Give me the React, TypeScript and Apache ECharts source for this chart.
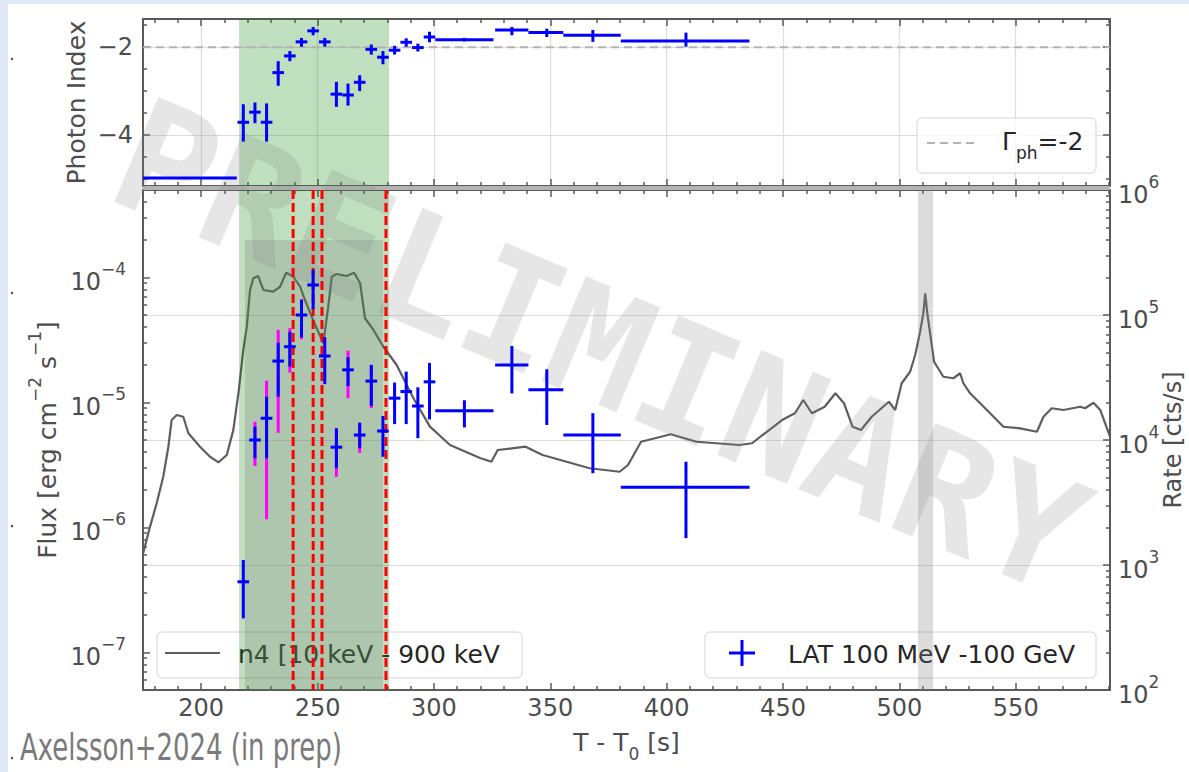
import React, { useEffect, useRef } from "react";
import * as echarts from "echarts";

// Axis ranges
const T_MIN = 175;
const T_MAX = 590.5;
const INDEX_MIN = -5.16;
const INDEX_MAX = -1.36;
const FLUX_MIN = 5e-8;
const FLUX_MAX = 5e-4;
const RATE_MIN = 1e2;
const RATE_MAX = 1e6;

// LAT photon index: [t, tLo, tHi, index, indexLo, indexHi]
const photonIndex = [
  [195.2, 175.0, 215.3, -4.98, -4.98, -4.98],
  [218.1, 215.6, 220.6, -3.71, -4.15, -3.3],
  [223.1, 220.6, 225.6, -3.48, -3.73, -3.26],
  [228.1, 225.6, 230.6, -3.71, -4.15, -3.28],
  [233.1, 230.6, 235.6, -2.58, -2.88, -2.32],
  [238.1, 235.6, 240.6, -2.2, -2.32, -2.09],
  [243.1, 240.6, 245.6, -1.88, -1.99, -1.79],
  [248.1, 245.6, 250.6, -1.63, -1.73, -1.54],
  [253.1, 250.6, 255.6, -1.88, -1.99, -1.79],
  [258.1, 255.6, 260.6, -3.07, -3.36, -2.79],
  [263.1, 260.6, 265.6, -3.09, -3.33, -2.83],
  [268.1, 265.6, 270.6, -2.8, -3.0, -2.64],
  [273.1, 270.6, 275.6, -2.05, -2.17, -1.94],
  [278.1, 275.6, 280.6, -2.23, -2.39, -2.09],
  [283.1, 280.6, 285.6, -2.07, -2.17, -1.97],
  [288.1, 285.6, 290.6, -1.89, -1.99, -1.8],
  [293.1, 290.6, 295.6, -2.01, -2.1, -1.92],
  [298.1, 295.6, 300.6, -1.77, -1.89, -1.65],
  [313.1, 300.6, 325.6, -1.83, -1.87, -1.79],
  [333.5, 326.3, 340.6, -1.61, -1.73, -1.54],
  [348.5, 340.6, 355.6, -1.67, -1.77, -1.58],
  [368.3, 355.6, 380.3, -1.73, -1.88, -1.61],
  [408.3, 380.3, 435.6, -1.86, -1.99, -1.67],
];

// LAT 100 MeV - 100 GeV flux: [t, tLo, tHi, flux, fluxLo, fluxHi]
const latFlux = [
  [218.1, 215.6, 220.6, 3.67e-7, 1.87e-7, 5.48e-7],
  [223.1, 220.6, 225.6, 5.0e-6, 3.57e-6, 6.38e-6],
  [228.1, 225.6, 230.6, 7.46e-6, 3.57e-6, 1.11e-5],
  [233.1, 230.6, 235.6, 2.14e-5, 1.11e-5, 3.0e-5],
  [238.1, 235.6, 240.6, 2.79e-5, 1.93e-5, 3.67e-5],
  [243.1, 240.6, 245.6, 5.0e-5, 3.32e-5, 6.6e-5],
  [248.1, 245.6, 250.6, 8.69e-5, 5.56e-5, 1.15e-4],
  [253.1, 250.6, 255.6, 2.35e-5, 1.4e-5, 3.32e-5],
  [258.1, 255.6, 260.6, 4.38e-6, 2.97e-6, 6.2e-6],
  [263.1, 260.6, 265.6, 1.82e-5, 1.35e-5, 2.3e-5],
  [268.1, 265.6, 270.6, 5.48e-6, 4.3e-6, 6.87e-6],
  [273.1, 270.6, 275.6, 1.48e-5, 9.35e-6, 1.99e-5],
  [278.1, 275.6, 280.6, 5.9e-6, 3.67e-6, 7.78e-6],
  [283.1, 280.6, 285.6, 1.08e-5, 6.7e-6, 1.44e-5],
  [288.1, 285.6, 290.6, 1.22e-5, 6.7e-6, 1.76e-5],
  [293.1, 290.6, 295.6, 9.35e-6, 5.17e-6, 1.32e-5],
  [298.1, 295.6, 300.6, 1.46e-5, 7.3e-6, 2.07e-5],
  [313.1, 300.6, 325.6, 8.57e-6, 6.3e-6, 1.04e-5],
  [333.5, 326.3, 340.6, 1.99e-5, 1.18e-5, 2.83e-5],
  [348.5, 340.6, 355.6, 1.26e-5, 6.6e-6, 1.84e-5],
  [368.3, 355.6, 380.3, 5.48e-6, 2.71e-6, 8.2e-6],
  [408.3, 380.3, 435.6, 2.09e-6, 8.2e-7, 3.35e-6],
];

// Flux ranges including systematics: [t, lo, hi]
const latFluxSys = [
  [223.1, 3.1e-6, 7.0e-6],
  [228.1, 1.16e-6, 1.49e-5],
  [233.1, 5.7e-6, 3.8e-5],
  [238.1, 1.73e-5, 3.92e-5],
  [243.1, 3.2e-5, 6.7e-5],
  [258.1, 2.54e-6, 6.2e-6],
  [263.1, 1.08e-5, 2.59e-5],
  [268.1, 3.95e-6, 6.87e-6],
  [273.1, 9.0e-6, 2.0e-5],
];

// GBM n4 light curve, 10 keV - 900 keV
const lcTime = [
  175.1, 178.0, 180.9, 183.7, 185.9, 187.3, 189.5, 192.3, 194.5, 199.5, 203.8, 207.4, 211.0, 213.8,
  216.0, 218.1, 219.6, 221.0, 222.4, 224.5, 226.7, 231.0, 233.9, 236.5, 239.6, 242.5, 244.6, 247.5,
  250.3, 252.5, 254.6, 256.1, 258.2, 262.5, 265.7, 268.3, 270.4, 274.0, 278.3, 284.0, 291.2, 298.3,
  306.9, 319.8, 324.7, 327.4, 339.4, 346.7, 366.9, 379.8, 383.4, 389.0, 401.8, 412.8, 431.2, 436.7,
  442.2, 449.6, 455.1, 458.7, 462.4, 467.9, 472.5, 476.2, 479.9, 483.5, 488.1, 495.5, 498.2, 501.0,
  504.6, 506.8, 508.9, 510.3, 511.1, 512.0, 513.2, 514.9, 518.9, 523.2, 526.1, 527.5, 530.4, 537.6,
  544.7, 551.9, 559.1, 561.9, 565.5, 570.5, 577.7, 579.8, 583.4, 586.3, 590.5,
];
const lcRate = [
  1250, 2020, 3130, 5080, 8840, 14450, 15850, 15350, 11320, 8840, 7350, 6630, 7590, 12000,
  23650, 52500, 80600, 158500, 196600, 205000, 158500, 153600, 168300, 218000, 202300, 168300, 131800, 96900,
  73500, 59400, 116500, 202300, 212800, 205000, 218000, 179500, 94200, 75900, 55700, 39800, 21600, 12800,
  9120, 7180, 6700, 8320, 8840, 7590, 5940, 5570, 6310, 9680, 11110, 9680, 9120, 9420,
  11320, 14450, 16370, 20900, 16370, 18450, 23650, 19680, 12760, 12020, 15350, 20230, 17380, 28440,
  35160, 47860, 73450, 103000, 149300, 103000, 71450, 42300, 32060, 31190, 34200, 28440, 23650, 17380,
  12760, 12400, 11650, 15350, 17950, 17380, 18450, 17950, 19870, 17380, 10620,
];

// Time intervals and markers
const promptSpan = [216.3, 280.7];
const analysisSpan = [218.8, 278.1];
const analysisSpanTop = 0.9; // fraction of the panel height
const highlightSpan = [508.0, 514.5];
const intervalEdges = [239.5, 248.1, 251.9, 279.4];
const referenceIndex = -2;

const FONT = "'DejaVu Sans', sans-serif";
const TEXT = "#4d4d4d";
const SPINE = "#5a5a5a";
const GRID_LINE = "#dcdcdc";
const BLUE = "#0000ff";

function logMinor(min: number, max: number) {
  const out: number[] = [];
  for (let e = Math.floor(Math.log10(min)); e <= Math.ceil(Math.log10(max)); e++) {
    for (let m = 2; m <= 9; m++) {
      const v = m * Math.pow(10, e);
      if (v > min && v < max) out.push(v);
    }
  }
  return out;
}

function powerLabel(v: number) {
  const e = Math.round(Math.log10(v));
  return `{b|10}{s|${e < 0 ? "\u2212" : ""}${Math.abs(e)}}`;
}

const powerRich = {
  b: { fontSize: 24, lineHeight: 34, verticalAlign: "bottom", color: TEXT, fontFamily: FONT },
  s: { fontSize: 17, lineHeight: 17, verticalAlign: "top", color: TEXT, fontFamily: FONT },
};

const lineStyle = { color: SPINE, width: 2 };
const tickStyle = { color: SPINE, width: 1.5 };

function timeAxis(gridIndex: number, position: string, extra: any = {}) {
  return {
    type: "value",
    gridIndex,
    position,
    min: T_MIN,
    max: T_MAX,
    splitNumber: 8,
    minInterval: 50,
    maxInterval: 50,
    axisLine: { show: true, onZero: false, lineStyle },
    axisTick: { show: true, inside: true, length: 7, lineStyle: tickStyle },
    minorTick: { show: true, splitNumber: 5, length: 4, lineStyle: tickStyle },
    axisLabel: { show: false },
    splitLine: { show: false },
    ...extra,
  };
}

function crossRender(color: string, width: number) {
  return (params: any, api: any) => {
    const t = api.value(0);
    const lo = api.value(1);
    const hi = api.value(2);
    const y = api.value(3);
    const ylo = api.value(4);
    const yhi = api.value(5);
    const c = api.coord([t, y]);
    const l = api.coord([lo, y]);
    const r = api.coord([hi, y]);
    const style = { stroke: color, lineWidth: width, fill: null };
    const children: any[] = [
      { type: "line", shape: { x1: l[0], y1: c[1], x2: r[0], y2: c[1] }, style },
    ];
    if (ylo !== yhi) {
      const b = api.coord([t, ylo]);
      const u = api.coord([t, yhi]);
      children.push({ type: "line", shape: { x1: c[0], y1: u[1], x2: c[0], y2: b[1] }, style });
    }
    return { type: "group", children };
  };
}

function barRender(color: string, width: number) {
  return (params: any, api: any) => {
    const t = api.value(0);
    const b = api.coord([t, api.value(1)]);
    const u = api.coord([t, api.value(2)]);
    return {
      type: "line",
      shape: { x1: b[0], y1: u[1], x2: b[0], y2: b[1] },
      style: { stroke: color, lineWidth: width },
    };
  };
}

// vertical band over [value(0), value(1)], covering the lower `frac` of the panel
function spanRender(color: string, yRef: number, frac = 1) {
  return (params: any, api: any) => {
    const cs = params.coordSys;
    const x1 = api.coord([api.value(0), yRef])[0];
    const x2 = api.coord([api.value(1), yRef])[0];
    const h = cs.height * frac;
    return {
      type: "rect",
      shape: { x: x1, y: cs.y + cs.height - h, width: x2 - x1, height: h },
      style: { fill: color },
    };
  };
}

function vlineRender(color: string, yRef: number) {
  return (params: any, api: any) => {
    const cs = params.coordSys;
    const x = api.coord([api.value(0), yRef])[0];
    return {
      type: "line",
      shape: { x1: x, y1: cs.y, x2: x, y2: cs.y + cs.height },
      style: { stroke: color, lineWidth: 3, lineDash: [9, 4] },
    };
  };
}

export default function App() {
  const ref = useRef<HTMLDivElement>(null);

  useEffect(() => {
    if (!ref.current) return;
    const chart = echarts.init(ref.current, null, { renderer: "svg" });

    const option: any = {
      animation: false,
      backgroundColor: "#ffffff",
      textStyle: { fontFamily: FONT },
      grid: [
        { left: 143, top: 19, width: 967, height: 167, outerBoundsMode: "none", containLabel: false },
        { left: 143, top: 190, width: 967, height: 500, outerBoundsMode: "none", containLabel: false },
      ],
      xAxis: [
        timeAxis(0, "bottom", { splitLine: { show: true, lineStyle: { color: GRID_LINE, width: 1.2 } } }),
        timeAxis(0, "top"),
        timeAxis(1, "bottom", {
          axisLabel: {
            show: true,
            fontSize: 24,
            color: TEXT,
            fontFamily: FONT,
            margin: 6,
            showMinLabel: false,
            showMaxLabel: false,
          },
          name: "{a|T - T}{s|0}{a| [s]}",
          nameLocation: "middle",
          nameGap: 40,
          nameMoveOverlap: false,
          nameTextStyle: {
            rich: {
              a: { fontSize: 25, lineHeight: 32, verticalAlign: "top", color: TEXT, fontFamily: FONT },
              s: { fontSize: 17, lineHeight: 17, verticalAlign: "bottom", color: TEXT, fontFamily: FONT },
            },
          },
        }),
        timeAxis(1, "top"),
      ],
      yAxis: [
        {
          type: "value",
          gridIndex: 0,
          position: "left",
          min: INDEX_MIN,
          max: INDEX_MAX,
          splitNumber: 2,
          minInterval: 2,
          maxInterval: 2,
          axisLine: { show: true, lineStyle },
          axisTick: { show: true, inside: true, length: 7, lineStyle: tickStyle },
          minorTick: { show: true, splitNumber: 4, length: 4, lineStyle: tickStyle },
          axisLabel: {
            fontSize: 24,
            color: TEXT,
            fontFamily: FONT,
            margin: 10,
            showMinLabel: false,
            showMaxLabel: false,
            formatter: (v: number) => String(v).replace("-", "\u2212"),
          },
          splitLine: { show: true, lineStyle: { color: GRID_LINE, width: 1.2 } },
          name: "Photon Index",
          nameLocation: "middle",
          nameRotate: 90,
          nameGap: 54,
          nameMoveOverlap: false,
          nameTextStyle: { fontSize: 25, color: TEXT, fontFamily: FONT },
        },
        {
          type: "value",
          gridIndex: 0,
          position: "right",
          min: INDEX_MIN,
          max: INDEX_MAX,
          splitNumber: 2,
          minInterval: 2,
          maxInterval: 2,
          axisLine: { show: true, lineStyle },
          axisTick: { show: true, inside: true, length: 7, lineStyle: tickStyle },
          minorTick: { show: true, splitNumber: 4, length: 4, lineStyle: tickStyle },
          axisLabel: { show: false },
          splitLine: { show: false },
        },
        {
          type: "log",
          logBase: 10,
          gridIndex: 1,
          position: "left",
          min: FLUX_MIN,
          max: FLUX_MAX,
          axisLine: { show: true, lineStyle },
          axisTick: { show: true, inside: true, length: 7, lineStyle: tickStyle },
          axisLabel: {
            margin: 17,
            showMinLabel: false,
            showMaxLabel: false,
            formatter: powerLabel,
            rich: powerRich,
          },
          splitLine: { show: false },
          name: "{a|Flux [erg cm}{s|\u22122}{a| s}{s|\u22121}{a|]}",
          nameLocation: "middle",
          nameRotate: 90,
          nameGap: 83,
          nameMoveOverlap: false,
          nameTextStyle: {
            rich: {
              a: { fontSize: 25, lineHeight: 34, verticalAlign: "bottom", color: TEXT, fontFamily: FONT },
              s: { fontSize: 17, lineHeight: 17, verticalAlign: "top", color: TEXT, fontFamily: FONT },
            },
          },
        },
        {
          type: "log",
          logBase: 10,
          gridIndex: 1,
          position: "right",
          min: RATE_MIN,
          max: RATE_MAX,
          axisLine: { show: true, lineStyle },
          axisTick: { show: true, inside: true, length: 7, lineStyle: tickStyle },
          axisLabel: { margin: 8, formatter: powerLabel, rich: powerRich },
          splitLine: { show: true, lineStyle: { color: GRID_LINE, width: 1.2 } },
          name: "Rate [cts/s]",
          nameLocation: "middle",
          nameRotate: 90,
          nameGap: 51,
          nameMoveOverlap: false,
          nameTextStyle: { fontSize: 24, color: TEXT, fontFamily: FONT },
        },
        {
          type: "log",
          logBase: 10,
          gridIndex: 1,
          position: "left",
          min: FLUX_MIN,
          max: FLUX_MAX,
          axisLine: { show: false },
          axisTick: { show: true, inside: true, length: 4, lineStyle: tickStyle, customValues: logMinor(FLUX_MIN, FLUX_MAX) },
          axisLabel: { show: false },
          splitLine: { show: false },
        },
        {
          type: "log",
          logBase: 10,
          gridIndex: 1,
          position: "right",
          min: RATE_MIN,
          max: RATE_MAX,
          axisLine: { show: false },
          axisTick: { show: true, inside: true, length: 4, lineStyle: tickStyle, customValues: logMinor(RATE_MIN, RATE_MAX) },
          axisLabel: { show: false },
          splitLine: { show: false },
        },
      ],
      series: [
        // top panel
        {
          type: "custom",
          name: "prompt-top",
          xAxisIndex: 0,
          yAxisIndex: 0,
          z: 3,
          silent: true,
          encode: { x: [0, 1] },
          data: [promptSpan],
          renderItem: spanRender("rgba(0,128,0,0.25)", -3),
        },
        {
          type: "line",
          name: "reference index",
          xAxisIndex: 0,
          yAxisIndex: 0,
          z: 4,
          symbol: "none",
          lineStyle: { color: "#b3b3b3", width: 2, type: [8, 5] },
          data: [
            [T_MIN, referenceIndex],
            [T_MAX, referenceIndex],
          ],
        },
        {
          type: "custom",
          name: "photon index",
          xAxisIndex: 0,
          yAxisIndex: 0,
          z: 6,
          clip: true,
          encode: { x: 0, y: 3 },
          data: photonIndex,
          renderItem: crossRender(BLUE, 3),
        },
        // bottom panel
        {
          type: "line",
          name: "n4",
          xAxisIndex: 2,
          yAxisIndex: 3,
          z: 2,
          symbol: "none",
          lineStyle: { color: "#5e5e5e", width: 2.2 },
          data: lcTime.map((t, i) => [t, lcRate[i]]),
        },
        {
          type: "custom",
          name: "prompt-bottom",
          xAxisIndex: 2,
          yAxisIndex: 2,
          z: 3,
          silent: true,
          encode: { x: [0, 1] },
          data: [promptSpan],
          renderItem: spanRender("rgba(0,128,0,0.25)", 1e-6),
        },
        {
          type: "custom",
          name: "analysis interval",
          xAxisIndex: 2,
          yAxisIndex: 2,
          z: 3,
          silent: true,
          encode: { x: [0, 1] },
          data: [analysisSpan],
          renderItem: spanRender("rgba(128,128,128,0.28)", 1e-6, analysisSpanTop),
        },
        {
          type: "custom",
          name: "highlight",
          xAxisIndex: 2,
          yAxisIndex: 2,
          z: 3,
          silent: true,
          encode: { x: [0, 1] },
          data: [highlightSpan],
          renderItem: spanRender("rgba(128,128,128,0.28)", 1e-6),
        },
        {
          type: "custom",
          name: "interval edges",
          xAxisIndex: 2,
          yAxisIndex: 2,
          z: 5,
          silent: true,
          encode: { x: 0 },
          data: intervalEdges.map((t) => [t]),
          renderItem: vlineRender("#ff0000", 1e-6),
        },
        {
          type: "custom",
          name: "LAT sys",
          xAxisIndex: 2,
          yAxisIndex: 2,
          z: 6,
          encode: { x: 0, y: 1 },
          data: latFluxSys,
          renderItem: barRender("#ff00ff", 3),
        },
        {
          type: "custom",
          name: "LAT 100 MeV -100 GeV",
          xAxisIndex: 2,
          yAxisIndex: 2,
          z: 7,
          encode: { x: 0, y: 3 },
          data: latFlux,
          renderItem: crossRender(BLUE, 3),
        },
      ],
      graphic: [
        // slide frame
        { type: "rect", z: 0, shape: { x: 0, y: 0, width: 1189, height: 4 }, style: { fill: "#dfeaf6" } },
        { type: "rect", z: 0, shape: { x: 0, y: 0, width: 8, height: 772 }, style: { fill: "#dfeaf6" } },
        { type: "circle", z: 0, shape: { cx: 12, cy: 59, r: 1.2 }, style: { fill: "#444" } },
        { type: "circle", z: 0, shape: { cx: 12, cy: 293, r: 1.2 }, style: { fill: "#444" } },
        { type: "circle", z: 0, shape: { cx: 12, cy: 526, r: 1.2 }, style: { fill: "#444" } },
        { type: "circle", z: 0, shape: { cx: 12, cy: 758, r: 1.2 }, style: { fill: "#444" } },
        // band between the two panels
        { type: "rect", z: 1, shape: { x: 143, y: 186, width: 967, height: 4 }, style: { fill: "#b4b4b4" } },
        // legend, top panel
        {
          type: "rect",
          z: 1,
          shape: { x: 917, y: 118, width: 179, height: 55, r: 5 },
          style: { fill: "rgba(255,255,255,0.8)", stroke: "#d4d4d4", lineWidth: 1 },
        },
        {
          type: "line",
          z: 1,
          shape: { x1: 927, y1: 143, x2: 977, y2: 143 },
          style: { stroke: "#b3b3b3", lineWidth: 2, lineDash: [8, 5] },
        },
        {
          type: "text",
          z: 1,
          x: 1002,
          y: 145,
          style: {
            text: "{a|\u0393}{s|ph}{a|=-2}",
            verticalAlign: "middle",
            rich: {
              a: { fontSize: 25, lineHeight: 32, verticalAlign: "top", fill: "#262626", fontFamily: FONT },
              s: { fontSize: 17, lineHeight: 17, verticalAlign: "bottom", fill: "#262626", fontFamily: FONT },
            },
          },
        },
        // legend, bottom left
        {
          type: "rect",
          z: 1,
          shape: { x: 157, y: 632, width: 365, height: 46, r: 5 },
          style: { fill: "rgba(255,255,255,0.8)", stroke: "#d4d4d4", lineWidth: 1 },
        },
        {
          type: "line",
          z: 1,
          shape: { x1: 165, y1: 653, x2: 220, y2: 653 },
          style: { stroke: "#5e5e5e", lineWidth: 2.2 },
        },
        {
          type: "text",
          z: 1,
          x: 238,
          y: 654,
          style: {
            text: "n4 [10 keV - 900 keV",
            fontSize: 25,
            fontFamily: FONT,
            fill: "#262626",
            verticalAlign: "middle",
          },
        },
        // legend, bottom right
        {
          type: "rect",
          z: 1,
          shape: { x: 705, y: 632, width: 391, height: 46, r: 5 },
          style: { fill: "rgba(255,255,255,0.8)", stroke: "#d4d4d4", lineWidth: 1 },
        },
        {
          type: "line",
          z: 8,
          shape: { x1: 729, y1: 653, x2: 755, y2: 653 },
          style: { stroke: BLUE, lineWidth: 3 },
        },
        {
          type: "line",
          z: 8,
          shape: { x1: 742, y1: 640, x2: 742, y2: 666 },
          style: { stroke: BLUE, lineWidth: 3 },
        },
        {
          type: "text",
          z: 1,
          x: 788,
          y: 654,
          style: {
            text: "LAT 100 MeV -100 GeV",
            fontSize: 25,
            fontFamily: FONT,
            fill: "#262626",
            verticalAlign: "middle",
          },
        },
        // watermark
        {
          type: "text",
          z: 4,
          silent: true,
          x: 600,
          y: 347,
          rotation: -0.397,
          style: {
            text: "PRELIMINARY",
            fontSize: 156,
            fontWeight: "bold",
            fontFamily: "'DejaVu Sans Mono', monospace",
            fill: "rgba(128,128,128,0.2)",
            align: "center",
            verticalAlign: "middle",
          },
        },
        // credit line
        {
          type: "text",
          z: 1,
          x: 20,
          y: 766,
          scaleX: 0.683,
          style: {
            text: "Axelsson+2024 (in prep)",
            fontSize: 38,
            fontFamily: FONT,
            fill: "#7a7a7a",
            verticalAlign: "bottom",
          },
        },
      ],
    };

    chart.setOption(option);
    return () => chart.dispose();
  }, []);

  return (
    <div
      ref={ref}
      style={{ position: "fixed", left: 0, top: 0, width: 1189, height: 772, background: "#fff" }}
    />
  );
}
